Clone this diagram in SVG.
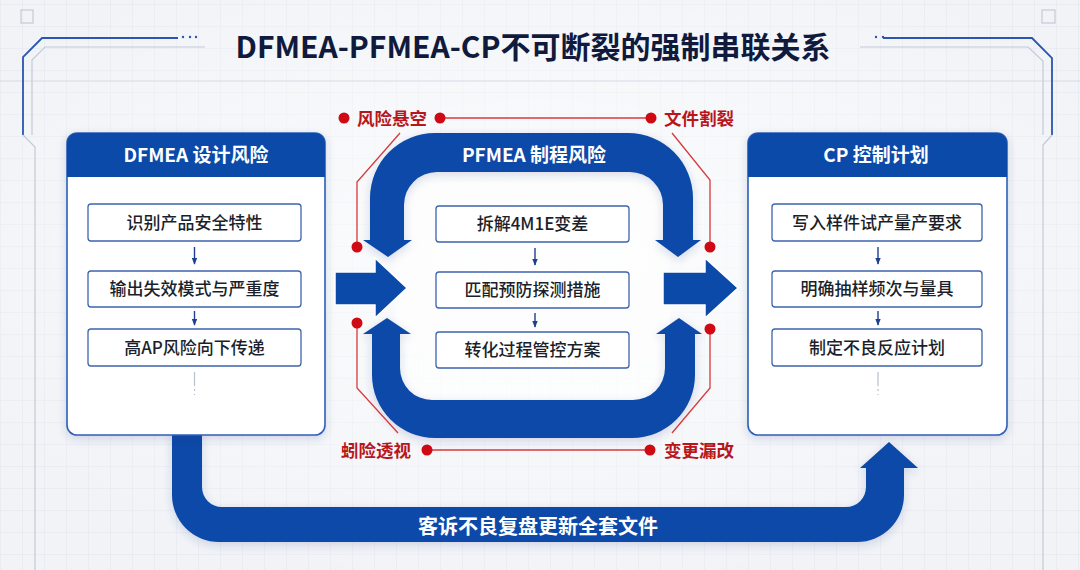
<svg xmlns="http://www.w3.org/2000/svg" width="1080" height="570" viewBox="0 0 1080 570">
<style>
.bg{fill:#f1f3f7}
.grid{stroke:#e1e6ee;stroke-width:1;fill:none}
.frameB{stroke:#2a56b0;stroke-width:1.8;fill:none}
.frameG{stroke:#c3cad6;stroke-width:1.2;fill:none}
.title{font-family:"Noto Sans CJK SC","Noto Sans",sans-serif;font-weight:700;font-size:30px;fill:#101a3d}
.card{fill:#ffffff;stroke:#2f5fb8;stroke-width:1.6}
.head{fill:#0b4aa8}
.htxt{font-family:"Noto Sans CJK SC","Noto Sans",sans-serif;font-weight:700;font-size:19px;fill:#ffffff}
.box{fill:#ffffff;stroke:#3d64ad;stroke-width:1.3}
.btxt{font-family:"Noto Sans CJK SC","Noto Sans",sans-serif;font-weight:500;font-size:17px;fill:#1b1f2b}
.sarrow{stroke:#1e3f8f;stroke-width:1.4;fill:none}
.flow{fill:#0b4aa8}
.red{font-family:"Noto Sans CJK SC","Noto Sans",sans-serif;font-weight:700;font-size:17.5px;fill:#b8161c}
.rline{stroke:#d8393c;stroke-width:1.3;fill:none}
.rdot{fill:#d00a14}
.wtxt{font-family:"Noto Sans CJK SC","Noto Sans",sans-serif;font-weight:700;font-size:20px;fill:#ffffff}
</style>
<defs>
<pattern id="gp" width="22" height="22" patternUnits="userSpaceOnUse" x="0" y="4">
<path d="M22 0 L0 0 0 22" class="grid"/>
</pattern>
<radialGradient id="glow" cx="0.5" cy="0.45" r="0.6">
<stop offset="0" stop-color="#ffffff" stop-opacity="0.85"/>
<stop offset="1" stop-color="#ffffff" stop-opacity="0"/>
</radialGradient>
<linearGradient id="hg" x1="0" y1="0" x2="0" y2="1">
<stop offset="0" stop-color="#0d4fb0"/>
<stop offset="1" stop-color="#0a45a0"/>
</linearGradient>
<filter id="sh" x="-10%" y="-10%" width="120%" height="125%">
<feDropShadow dx="0" dy="3" stdDeviation="4" flood-color="#1b3a7a" flood-opacity="0.18"/>
</filter>
<marker id="ah" viewBox="0 0 10 10" refX="9" refY="5" markerWidth="7" markerHeight="7" orient="auto" markerUnits="userSpaceOnUse">
<path d="M0 1 L10 5 L0 9 Z" fill="#1e3f8f"/>
</marker>
</defs>

<rect class="bg" x="0" y="0" width="1080" height="570"/>
<rect x="0" y="0" width="1080" height="570" fill="url(#gp)"/>
<rect x="0" y="0" width="1080" height="570" fill="url(#glow)"/>
<line x1="0" y1="81" x2="1080" y2="81" stroke="#d5dbe4" stroke-width="1.2"/>

<g id="frame">
<rect x="21" y="10" width="12" height="13" class="frameG"/>
<rect x="1042" y="10" width="13" height="13" class="frameG"/>
<path class="frameB" d="M178 38 L42 38 L23 57 L23 135"/>
<path class="frameG" d="M23 135 L35 147 L35 570"/>
<path class="frameG" d="M205 47 L45 47 L32 60 L32 135"/>
<path class="frameB" d="M883 38 L1032 38 L1052 58 L1052 135"/>
<path class="frameG" d="M1052 135 L1043 145 L1043 570"/>
<path class="frameG" d="M860 47 L1028 47 L1043 61 L1043 135"/>
<circle cx="183" cy="37" r="1.2" fill="#2a56b0"/><circle cx="190" cy="37" r="1.2" fill="#2a56b0"/><circle cx="196" cy="37" r="1.2" fill="#2a56b0"/>
<circle cx="883" cy="37" r="1.2" fill="#2a56b0"/><circle cx="876" cy="37" r="1.2" fill="#2a56b0"/>
</g>

<text class="title" x="533" y="58" text-anchor="middle">DFMEA-PFMEA-CP不可断裂的强制串联关系</text>

<g id="connectors">
<path class="flow" id="feedback" filter="url(#sh)" d="M172 430 L202 430 L202 487 A20 20 0 0 0 222 507 L846 507 A20 20 0 0 0 866 487 L866 468 L860 468 L889 442 L918 468 L904 468 L904 495 A47 47 0 0 1 857 542 L219 542 A47 47 0 0 1 172 495 Z"/>
<rect x="395" y="170" width="275" height="232" fill="#ffffff" opacity="0.6"/>
<path class="flow" id="loopTop" filter="url(#sh)" d="M388 257 L363 240 L370 240 L370 198 A65 65 0 0 1 435 133 L628 133 A65 65 0 0 1 693 198 L693 240 L701 240 L678 257 L655 240 L663 240 L663 205 A33 33 0 0 0 630 172 L437 172 A33 33 0 0 0 404 205 L404 240 L412 240 Z"/>
<path class="flow" id="loopBottom" filter="url(#sh)" d="M387 318 L411 334 L400 334 L400 368 A32 32 0 0 0 432 400 L633 400 A32 32 0 0 0 665 368 L665 334 L656 334 L679 318 L702 334 L695 334 L695 375 A63 63 0 0 1 632 438 L435 438 A63 63 0 0 1 372 375 L372 334 L363 334 Z"/>
<path class="flow" id="arrowIn" stroke="#ffffff" stroke-width="1.5" d="M335 272 L375 272 L375 258 L407 288 L375 318 L375 305 L335 305 Z"/>
<path class="flow" id="arrowOut" stroke="#ffffff" stroke-width="1.5" d="M663 272 L705 272 L705 258 L738 288 L705 318 L705 305 L663 305 Z"/>
<text class="wtxt" x="538" y="534" text-anchor="middle">客诉不良复盘更新全套文件</text>
</g>

<g id="dfmea">
<rect class="card" x="67" y="133" width="258" height="302" rx="10" filter="url(#sh)"/>
<path class="head" fill="url(#hg)" d="M67 177 L67 143 A10 10 0 0 1 77 133 L315 133 A10 10 0 0 1 325 143 L325 177 Z"/>
<text class="htxt" x="196" y="162" text-anchor="middle">DFMEA 设计风险</text>
<rect class="box" x="88" y="204" width="213" height="37" rx="3"/>
<text class="btxt" x="194.5" y="228.5" text-anchor="middle">识别产品安全特性</text>
<rect class="box" x="88" y="271" width="213" height="36" rx="3"/>
<text class="btxt" x="194.5" y="295" text-anchor="middle">输出失效模式与严重度</text>
<rect class="box" x="88" y="329" width="213" height="37" rx="3"/>
<text class="btxt" x="194.5" y="353.5" text-anchor="middle">高AP风险向下传递</text>
<line class="sarrow" x1="194.5" y1="247" x2="194.5" y2="264" marker-end="url(#ah)"/>
<line class="sarrow" x1="194.5" y1="311" x2="194.5" y2="325" marker-end="url(#ah)"/>
<line x1="194.5" y1="372" x2="194.5" y2="395" stroke="#b8c0cc" stroke-width="1.2" stroke-dasharray="14 3 2 3"/>
</g>

<g id="pfmea">
<text class="htxt" x="534" y="162" text-anchor="middle">PFMEA 制程风险</text>
<rect class="box" x="436" y="206" width="193" height="36" rx="3"/>
<text class="btxt" x="532.5" y="230" text-anchor="middle">拆解4M1E变差</text>
<rect class="box" x="436" y="272" width="193" height="36" rx="3"/>
<text class="btxt" x="532.5" y="296" text-anchor="middle">匹配预防探测措施</text>
<rect class="box" x="436" y="332" width="193" height="36" rx="3"/>
<text class="btxt" x="532.5" y="356" text-anchor="middle">转化过程管控方案</text>
<line class="sarrow" x1="535" y1="248" x2="535" y2="265" marker-end="url(#ah)"/>
<line class="sarrow" x1="535" y1="313" x2="535" y2="327" marker-end="url(#ah)"/>
</g>

<g id="cp">
<rect class="card" x="748" y="133" width="259" height="302" rx="10" filter="url(#sh)"/>
<path class="head" fill="url(#hg)" d="M748 177 L748 143 A10 10 0 0 1 758 133 L997 133 A10 10 0 0 1 1007 143 L1007 177 Z"/>
<text class="htxt" x="876" y="162" text-anchor="middle">CP 控制计划</text>
<rect class="box" x="772" y="204" width="210" height="37" rx="3"/>
<text class="btxt" x="877" y="228.5" text-anchor="middle">写入样件试产量产要求</text>
<rect class="box" x="772" y="271" width="210" height="36" rx="3"/>
<text class="btxt" x="877" y="295" text-anchor="middle">明确抽样频次与量具</text>
<rect class="box" x="772" y="329" width="210" height="37" rx="3"/>
<text class="btxt" x="877" y="353.5" text-anchor="middle">制定不良反应计划</text>
<line class="sarrow" x1="878" y1="247" x2="878" y2="264" marker-end="url(#ah)"/>
<line class="sarrow" x1="878" y1="311" x2="878" y2="325" marker-end="url(#ah)"/>
<line x1="878" y1="372" x2="878" y2="395" stroke="#b8c0cc" stroke-width="1.2" stroke-dasharray="14 3 2 3"/>
</g>

<g id="risks">
<line class="rline" x1="440" y1="118" x2="651" y2="118"/>
<line class="rline" x1="427" y1="450" x2="650" y2="450"/>
<path class="rline" d="M400 133 L357 182 L357 247"/>
<path class="rline" d="M672 133 L710 180 L710 247"/>
<path class="rline" d="M357 323 L357 388 L398 433"/>
<path class="rline" d="M710 329 L710 388 L672 433"/>
<circle class="rdot" cx="344" cy="118" r="5.5"/>
<circle class="rdot" cx="440" cy="118" r="5.5"/>
<circle class="rdot" cx="651" cy="118" r="5.5"/>
<circle class="rdot" cx="427" cy="450" r="5.5"/>
<circle class="rdot" cx="650" cy="450" r="5.5"/>
<circle class="rdot" cx="357" cy="247" r="5.5"/>
<circle class="rdot" cx="710" cy="247" r="5.5"/>
<circle class="rdot" cx="357" cy="323" r="5.5"/>
<circle class="rdot" cx="710" cy="329" r="5.5"/>
<text class="red" x="392" y="124.5" text-anchor="middle">风险悬空</text>
<text class="red" x="699" y="124.5" text-anchor="middle">文件割裂</text>
<text class="red" x="376" y="456.5" text-anchor="middle">蚓险透视</text>
<text class="red" x="699" y="456.5" text-anchor="middle">变更漏改</text>
</g>
</svg>
